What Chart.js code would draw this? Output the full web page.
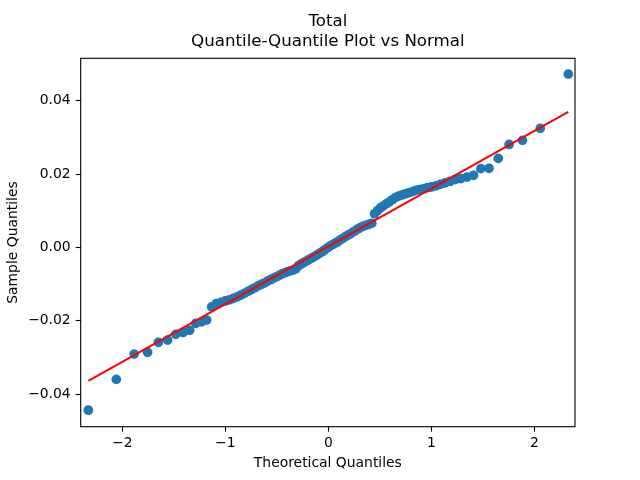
<!DOCTYPE html>
<html>
<head>
<meta charset="utf-8">
<script src="https://cdn.jsdelivr.net/npm/chart.js@4/dist/chart.umd.min.js"></script>
<style>
  html, body { margin: 0; padding: 0; background: #fff; }
  #wrap { width: 640px; height: 480px; }
</style>
</head>
<body>
<div id="wrap"><canvas id="qq" width="640" height="480"></canvas></div>
<script>
// Theoretical quantiles (x) and sorted sample quantiles (y)
const theoretical = [
  -2.330, -2.058, -1.885, -1.755, -1.650, -1.560, -1.481, -1.410, -1.346, -1.287,
  -1.232, -1.181, -1.133, -1.087, -1.043, -1.001, -0.961, -0.922, -0.885, -0.849,
  -0.814, -0.780, -0.746, -0.714, -0.682, -0.651, -0.621, -0.591, -0.562, -0.533,
  -0.505, -0.477, -0.449, -0.422, -0.395, -0.368, -0.342, -0.316, -0.290, -0.264,
  -0.239, -0.213, -0.188, -0.162, -0.137, -0.112, -0.087, -0.062, -0.037, -0.012,
  0.012, 0.037, 0.062, 0.087, 0.112, 0.137, 0.162, 0.188, 0.213, 0.239,
  0.264, 0.290, 0.316, 0.342, 0.368, 0.395, 0.422, 0.449, 0.477, 0.505,
  0.533, 0.562, 0.591, 0.621, 0.651, 0.682, 0.714, 0.746, 0.780, 0.814,
  0.849, 0.885, 0.922, 0.961, 1.001, 1.043, 1.087, 1.133, 1.181, 1.232,
  1.287, 1.346, 1.410, 1.481, 1.560, 1.650, 1.755, 1.885, 2.058, 2.330
];
const sample = [
  -0.0444, -0.0360, -0.0291, -0.0286, -0.0259, -0.0253, -0.0237, -0.0232, -0.0226, -0.0207,
  -0.0203, -0.0198, -0.0162, -0.0153, -0.0150, -0.0146, -0.0143, -0.0139, -0.0135, -0.0130,
  -0.0125, -0.0120, -0.0115, -0.0110, -0.0105, -0.0101, -0.0097, -0.0092, -0.0088, -0.0084,
  -0.0080, -0.0076, -0.0072, -0.0069, -0.0066, -0.0064, -0.0062, -0.0058, -0.0050, -0.0045,
  -0.0041, -0.0037, -0.0033, -0.0029, -0.0025, -0.0021, -0.0016, -0.0012, -0.0007, -0.0002,
  0.0003, 0.0007, 0.0011, 0.0015, 0.0020, 0.0024, 0.0029, 0.0033, 0.0037, 0.0042,
  0.0046, 0.0051, 0.0055, 0.0058, 0.0061, 0.0063, 0.0066, 0.0092, 0.0100, 0.0108,
  0.0113, 0.0119, 0.0124, 0.0130, 0.0136, 0.0140, 0.0143, 0.0146, 0.0149, 0.0152,
  0.0156, 0.0158, 0.0160, 0.0163, 0.0165, 0.0168, 0.0172, 0.0176, 0.0180, 0.0185,
  0.0188, 0.0192, 0.0197, 0.0215, 0.0216, 0.0243, 0.0281, 0.0292, 0.0325, 0.0473
];

// Reference line end points
const lineX = [-2.330, 2.330];
const lineY = [-0.0364, 0.0370];

const xTicks = [-2, -1, 0, 1, 2];
const yTicks = [-0.04, -0.02, 0.00, 0.02, 0.04];

const titleLines = ['Total', 'Quantile-Quantile Plot vs Normal'];

Chart.defaults.font.family = "'DejaVu Sans', sans-serif";
Chart.defaults.color = '#000';

function minusSign(s) {
    return s.replace('-', '\u2212');
}

// matplotlib style box around the plot area
const frame = {
    id: 'frame',
    afterDraw(chart) {
        const a = chart.chartArea;
        const ctx = chart.ctx;
        ctx.save();
        ctx.strokeStyle = '#000';
        ctx.lineWidth = 1.1;
        ctx.strokeRect(a.left, a.top, a.right - a.left, a.bottom - a.top);
        ctx.restore();
    }
};

new Chart(document.getElementById('qq'), {
    type: 'scatter',
    data: {
        datasets: [{
            data: lineX.map((x, i) => ({ x: x, y: lineY[i] })),
            showLine: true,
            borderColor: '#ff0000',
            borderWidth: 2,
            pointRadius: 0,
            order: 0
        }, {
            data: theoretical.map((x, i) => ({ x: x, y: sample[i] })),
            backgroundColor: '#1f77b4',
            borderWidth: 0,
            pointRadius: 4.85,
            order: 1
        }]
    },
    options: {
        responsive: false,
        animation: false,
        layout: { padding: { left: 0, right: 65, top: 0, bottom: 0 } },
        plugins: {
            legend: { display: false },
            tooltip: { enabled: false },
            title: {
                display: true,
                fullSize: false,
                text: titleLines,
                font: { size: 16.67, weight: 'normal', lineHeight: 1.17 },
                padding: { top: 12, bottom: 7.3 }
            }
        },
        scales: {
            x: {
                type: 'linear',
                min: -2.404,
                max: 2.395,
                afterBuildTicks: s => { s.ticks = xTicks.map(v => ({ value: v })); },
                afterFit: s => { s.height = 53.3; },
                grid: { drawOnChartArea: false, drawTicks: true, tickLength: 5, tickColor: '#000', tickWidth: 1.1 },
                border: { display: false },
                ticks: {
                    padding: 3.3,
                    font: { size: 13.9 },
                    maxRotation: 0,
                    callback: v => minusSign(String(v))
                },
                title: {
                    display: true,
                    text: 'Theoretical Quantiles',
                    font: { size: 13.9 },
                    padding: { top: 0, bottom: 8.7 }
                }
            },
            y: {
                type: 'linear',
                min: -0.0489,
                max: 0.0516,
                afterBuildTicks: s => { s.ticks = yTicks.map(v => ({ value: v })); },
                afterFit: s => { s.width = 80.7; },
                grid: { drawOnChartArea: false, drawTicks: true, tickLength: 5, tickColor: '#000', tickWidth: 1.1 },
                border: { display: false },
                ticks: {
                    padding: 5,
                    font: { size: 13.9 },
                    callback: v => minusSign(v.toFixed(2))
                },
                title: {
                    display: true,
                    text: 'Sample Quantiles',
                    font: { size: 13.9 },
                    padding: { top: 5, bottom: 0 }
                }
            }
        }
    },
    plugins: [frame]
});
</script>
</body>
</html>
